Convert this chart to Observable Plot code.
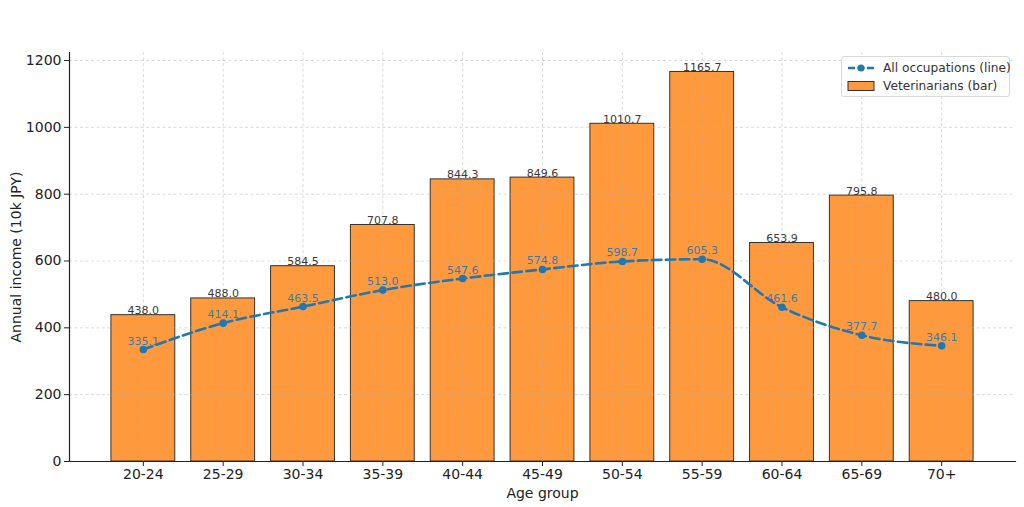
<!DOCTYPE html>
<html>
<head>
<meta charset="utf-8">
<script src="https://cdn.jsdelivr.net/npm/d3@7"></script>
<script src="https://cdn.jsdelivr.net/npm/@observablehq/plot@0.6"></script>
<style>
  html, body { margin: 0; padding: 0; background: #fff; }
  #wrap { position: relative; width: 1024px; height: 507px; font-family: "DejaVu Sans", sans-serif; }
  #legend { position: absolute; left: 841px; top: 56px; width: 169px; height: 41px; border: 1px solid #d9d9d9; border-radius: 3px; background: rgba(255,255,255,0.85); font-size: 12.2px; color: #333; box-sizing: border-box; padding: 2px 0 0 5px; white-space: nowrap; }
  .item { display: flex; align-items: center; height: 18px; }
  .sw { width: 28px; height: 12px; margin-right: 8px; flex: none; }
</style>
</head>
<body>
<div id="wrap">
  <div id="chart"></div>
  <div id="legend">
    <div class="item"><svg class="sw" width="28" height="12"><line x1="1" y1="6" x2="27" y2="6" stroke="#1f77b4" stroke-width="2.5" stroke-dasharray="7,2.5"/><circle cx="14" cy="6" r="3.5" fill="#1f77b4"/></svg>All occupations (line)</div>
    <div class="item"><svg class="sw" width="28" height="12"><rect x="1" y="1.5" width="26" height="9" fill="#ff993e" stroke="#333" stroke-width="1"/></svg>Veterinarians (bar)</div>
  </div>
</div>
<script>
const ageGroups = ["20-24","25-29","30-34","35-39","40-44","45-49","50-54","55-59","60-64","65-69","70+"];
const vetIncome = [438.0, 488.0, 584.5, 707.8, 844.3, 849.6, 1010.7, 1165.7, 653.9, 795.8, 480.0];
const allIncome = [335.1, 414.1, 463.5, 513.0, 547.6, 574.8, 598.7, 605.3, 461.6, 377.7, 346.1];
const yTicks = [0, 200, 400, 600, 800, 1000, 1200];

const data = ageGroups.map((g, i) => ({group: g, vet: vetIncome[i], all: allIncome[i]}));

const chart = Plot.plot({
  width: 1024,
  height: 507,
  marginLeft: 69,
  marginRight: 9,
  marginTop: 52,
  marginBottom: 46,
  style: {fontFamily: "DejaVu Sans, sans-serif", fontSize: "14px", color: "#222", background: "#fff"},
  x: {domain: ageGroups, paddingInner: 0.2, paddingOuter: 0.525, round: false, label: null},
  y: {domain: [0, 1224], label: null},
  marks: [
    Plot.barY(data, {x: "group", y: "vet", fill: "#ff993e", stroke: "#333", strokeWidth: 1}),
    Plot.gridY(yTicks, {stroke: "#b0b0b0", strokeOpacity: 0.6, strokeDasharray: "3,2.5", strokeWidth: 0.8}),
    Plot.gridX(ageGroups, {stroke: "#b0b0b0", strokeOpacity: 0.6, strokeDasharray: "3,2.5", strokeWidth: 0.8}),
    Plot.line(data, {x: "group", y: "all", stroke: "#1f77b4", strokeWidth: 2.6, strokeDasharray: "9.5,4.5", curve: "monotone-x"}),
    Plot.dot(data, {x: "group", y: "all", fill: "#1f77b4", r: 3.8}),
    Plot.text(data, {x: "group", y: "vet", text: d => d.vet.toFixed(1), lineAnchor: "bottom", dy: -1, fill: "#3a3a3a", fontSize: 11}),
    Plot.text(data, {x: "group", y: "all", text: d => d.all.toFixed(1), lineAnchor: "bottom", dy: -5, fill: "#1f77b4", fillOpacity: 0.9, fontSize: 11}),
    Plot.axisY(yTicks, {tickSize: 5, tickPadding: 3, fontSize: 14, tickFormat: d => String(d), label: "Annual income (10k JPY)", labelAnchor: "center", labelArrow: "none", labelOffset: 58}),
    Plot.axisX(ageGroups, {tickSize: 5, tickPadding: 3, fontSize: 14, label: "Age group", labelAnchor: "center", labelArrow: "none", labelOffset: 36}),
    Plot.frame({anchor: "left", stroke: "#222", strokeWidth: 1.2}),
    Plot.frame({anchor: "bottom", stroke: "#222", strokeWidth: 1.2})
  ]
});
document.getElementById("chart").appendChild(chart);
</script>
</body>
</html>
